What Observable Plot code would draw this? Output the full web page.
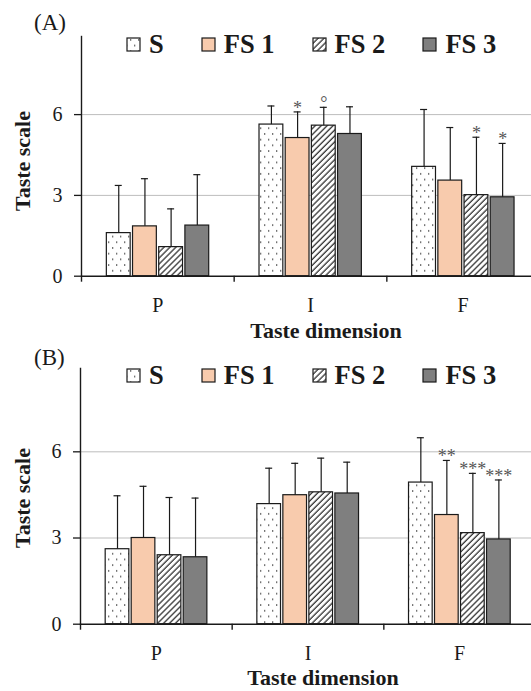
<!DOCTYPE html>
<html><head><meta charset="utf-8">
<script src="https://cdn.jsdelivr.net/npm/d3@7"></script>
<script src="https://cdn.jsdelivr.net/npm/@observablehq/plot@0.6"></script>
<style>
body{margin:0;background:#fff;overflow:hidden}
#wrap{position:relative;width:531px;height:691px;font-family:'Liberation Serif','Times New Roman',serif;color:#1a1a1a}
.abs{position:absolute;white-space:nowrap}
.plab{font-size:23px;line-height:23px}
.legend{display:flex;align-items:center;font-weight:bold;font-size:26.5px;line-height:26px}
.legend .item{display:flex;align-items:center;margin-right:37px}
.legend svg{margin-right:8px;display:block}
.ylab{font-weight:bold;font-size:22px;line-height:22px;transform:translate(-50%,-50%) rotate(-90deg)}
.xlab{font-weight:bold;font-size:22px;line-height:22px;transform:translateX(-50%)}
</style></head>
<body>
<svg width="0" height="0" style="position:absolute">
<defs>
<pattern id="dots" width="8" height="11.4" patternUnits="userSpaceOnUse">
<rect width="8" height="11.4" fill="#fff"/>
<rect x="4" y="2.2" width="1.3" height="1.3" fill="#333"/>
<rect x="0" y="7.9" width="1.3" height="1.3" fill="#333"/>
</pattern>
<pattern id="hatch" width="4.2" height="4.2" patternUnits="userSpaceOnUse" patternTransform="rotate(45)">
<rect width="4.2" height="4.2" fill="#fff"/>
<line x1="1" y1="0" x2="1" y2="4.2" stroke="#333" stroke-width="1.3"/>
</pattern>
</defs></svg>
<div id="wrap">
  <div class="abs plab" style="left:34px;top:11px">(A)</div>
  <div class="abs legend" id="legA" style="left:126px;top:31px"></div>
  <div class="abs ylab" style="left:23px;top:161px">Taste scale</div>
  <div class="abs xlab" style="left:326px;top:320px">Taste dimension</div>
  <div class="abs plab" style="left:34px;top:346px">(B)</div>
  <div class="abs legend" id="legB" style="left:126px;top:362px"></div>
  <div class="abs ylab" style="left:23px;top:498px">Taste scale</div>
  <div class="abs xlab" style="left:323px;top:667px">Taste dimension</div>
  <div class="abs" id="plotA" style="left:0;top:0"></div>
  <div class="abs" id="plotB" style="left:0;top:340px"></div>
</div>
<script>
const categories = ["P", "I", "F"];
const seriesNames = ["S", "FS 1", "FS 2", "FS 3"];
const yTicks = [0, 3, 6];

// Panel A: means and SDs (per category P, I, F)
const meanA_S   = [1.60, 5.63, 4.06];
const meanA_FS1 = [1.85, 5.13, 3.55];
const meanA_FS2 = [1.08, 5.59, 3.01];
const meanA_FS3 = [1.88, 5.28, 2.93];
const sdA_S   = [1.77, 0.69, 2.13];
const sdA_FS1 = [1.77, 0.97, 1.97];
const sdA_FS2 = [1.42, 0.68, 2.15];
const sdA_FS3 = [1.89, 1.01, 2.00];
const noteA_cat    = ["I", "I", "F", "F"];
const noteA_series = ["FS 1", "FS 2", "FS 2", "FS 3"];
const noteA_text   = ["*", "°", "*", "*"];

// Panel B
const meanB_S   = [2.61, 4.18, 4.93];
const meanB_FS1 = [3.00, 4.49, 3.80];
const meanB_FS2 = [2.40, 4.59, 3.17];
const meanB_FS3 = [2.33, 4.55, 2.95];
const sdB_S   = [1.86, 1.25, 1.56];
const sdB_FS1 = [1.80, 1.11, 1.90];
const sdB_FS2 = [2.01, 1.19, 2.08];
const sdB_FS3 = [2.06, 1.09, 2.07];
const noteB_cat    = ["F", "F", "F"];
const noteB_series = ["FS 1", "FS 2", "FS 3"];
const noteB_text   = ["**", "***", "***"];

const fills = ["url(#dots)", "#f8cbad", "url(#hatch)", "#7f7f7f"];
const ink = "#1a1a1a";

function buildRows(means, sds) {
  const rows = [];
  seriesNames.forEach((s, k) => categories.forEach((c, i) =>
    rows.push({cat: c, series: s, mean: means[k][i], sd: sds[k][i], upper: means[k][i] + sds[k][i]})));
  return rows;
}
function buildNotes(rows, cats, sers, texts) {
  return cats.map((c, i) => {
    const r = rows.find(d => d.cat === c && d.series === sers[i]);
    return {cat: c, series: sers[i], text: texts[i], upper: r.upper};
  });
}

function makePlot(rows, notes, cfg) {
  const bw = (cfg.xRange[1] - cfg.xRange[0]) / categories.length;
  const off = 0.166 * bw, step = 0.1715 * bw, barW = 0.156 * bw;
  const marks = [
    Plot.gridY([3, 6], {stroke: "#bdbdbd", strokeOpacity: 1, strokeWidth: 1})
  ];
  seriesNames.forEach((s, k) => {
    const rs = rows.filter(d => d.series === s);
    const left = off + k * step;
    const dx = left + barW / 2 - bw / 2;
    marks.push(
      Plot.barY(rs, {x: "cat", y: "mean", fill: fills[k], stroke: ink, strokeWidth: 1.2,
        insetLeft: left, insetRight: bw - left - barW}),
      Plot.ruleX(rs, {x: "cat", y1: "mean", y2: "upper", dx, stroke: ink, strokeWidth: 1.2}),
      Plot.tickY(rs, {x: "cat", y: "upper", dx, insetLeft: bw / 2 - 3.5, insetRight: bw / 2 - 3.5, stroke: ink, strokeWidth: 1.2}),
      Plot.text(notes.filter(d => d.series === s), {x: "cat", y: "upper", text: "text", dx, dy: -4,
        fontSize: 18, fill: "#555"})
    );
  });
  marks.push(
    Plot.ruleY([0], {stroke: ink, strokeWidth: 1.4}),
    Plot.frame({anchor: "left", stroke: ink, strokeWidth: 1.4}),
    Plot.ruleX(categories, {x: d => d, y1: 0, y2: 0, dx: -bw / 2, insetBottom: -6, stroke: ink, strokeWidth: 1.4}),
    Plot.axisY({ticks: yTicks, tickSize: 7, tickPadding: 12, fontSize: 20, label: null, stroke: ink, strokeWidth: 1.3}),
    Plot.axisX({tickSize: 0, tickPadding: 22, fontSize: 20, label: null})
  );
  return Plot.plot({
    width: 531, height: cfg.height,
    marginTop: cfg.marginTop, marginBottom: cfg.marginBottom,
    marginLeft: cfg.xRange[0], marginRight: 0,
    x: {type: "band", domain: categories, range: cfg.xRange, padding: 0, round: false, axis: null},
    y: {domain: [0, 8.9], axis: null},
    style: {fontFamily: "'Liberation Serif','Times New Roman',serif", color: ink, background: "transparent", fontSize: "20px"},
    marks
  });
}

function legend(el) {
  seriesNames.forEach((s, k) => {
    const item = document.createElement("div");
    item.className = "item";
    item.innerHTML = `<svg width="15" height="15"><rect x="1" y="1" width="13" height="13" fill="${fills[k]}" stroke="${ink}" stroke-width="1.2"/></svg><span>${s}</span>`;
    el.appendChild(item);
  });
}
legend(document.getElementById("legA"));
legend(document.getElementById("legB"));

const rowsA = buildRows([meanA_S, meanA_FS1, meanA_FS2, meanA_FS3], [sdA_S, sdA_FS1, sdA_FS2, sdA_FS3]);
const rowsB = buildRows([meanB_S, meanB_FS1, meanB_FS2, meanB_FS3], [sdB_S, sdB_FS1, sdB_FS2, sdB_FS3]);
const notesA = buildNotes(rowsA, noteA_cat, noteA_series, noteA_text);
const notesB = buildNotes(rowsB, noteB_cat, noteB_series, noteB_text);

document.getElementById("plotA").appendChild(makePlot(rowsA, notesA, {height: 340, marginTop: 36, marginBottom: 64.3, xRange: [81, 539]}));
document.getElementById("plotB").appendChild(makePlot(rowsB, notesB, {height: 351, marginTop: 28, marginBottom: 67.3, xRange: [80, 535]}));
</script>
</body></html>
